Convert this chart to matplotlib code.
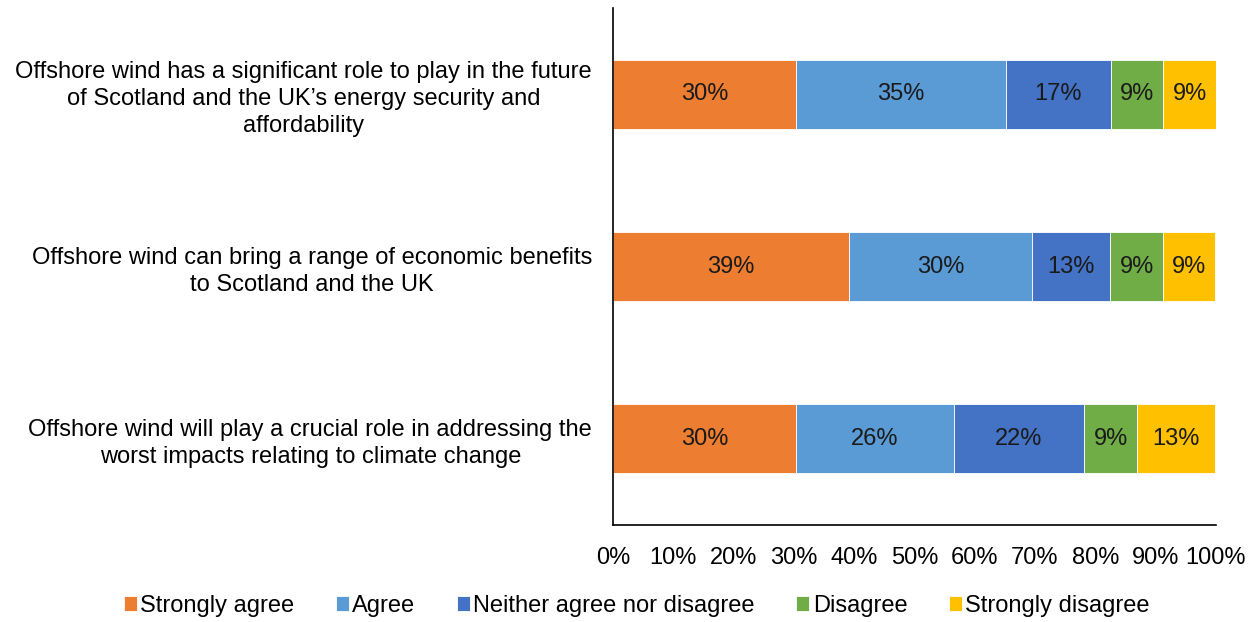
import numpy as np
import matplotlib
matplotlib.use("Agg")
import matplotlib.pyplot as plt

plt.rcParams['font.family'] = ['Liberation Sans', 'DejaVu Sans']

statements = [
    "Offshore wind has a significant role to play in the future\nof Scotland and the UK\u2019s energy security and\naffordability",
    "Offshore wind can bring a range of economic benefits\nto Scotland and the UK",
    "Offshore wind will play a crucial role in addressing the\nworst impacts relating to climate change",
]
responses = ["Strongly agree", "Agree", "Neither agree nor disagree", "Disagree", "Strongly disagree"]
strongly_agree = [30.4, 39.1, 30.4]
agree = [34.8, 30.4, 26.1]
neither = [17.4, 13.0, 21.7]
disagree = [8.7, 8.7, 8.7]
strongly_disagree = [8.7, 8.7, 13.0]
colors = ["#ED7D31", "#5B9BD5", "#4472C4", "#70AD47", "#FFC000"]

series = [strongly_agree, agree, neither, disagree, strongly_disagree]

fig = plt.figure(figsize=(12.56, 6.22), dpi=100)
ax = fig.add_axes([0.488, 0.156, 0.480, 0.831])

y = np.arange(len(statements))
left = np.zeros(len(statements))
for name, vals, c in zip(responses, series, colors):
    vals = np.array(vals)
    ax.barh(y, vals, left=left, height=0.4, color=c, edgecolor="white",
            linewidth=0.6, label=name)
    for yi, l, v in zip(y, left, vals):
        ax.text(l + v / 2, yi, f"{v:.0f}%", ha="center", va="center", fontsize=17, color="#1a1a1a")
    left += vals

ax.set_xlim(0, 100)
ax.set_ylim(2.5, -0.5)
ax.set_yticks(y)
ax.set_yticklabels(statements, fontsize=17, ha="right", multialignment="center",
                   linespacing=1.3)
ax.set_xticks(np.arange(0, 101, 10))
ax.set_xticklabels([f"{t}%" for t in range(0, 101, 10)], fontsize=17)
ax.tick_params(axis="both", length=0)
ax.tick_params(axis="x", pad=16)
ax.tick_params(axis="y", pad=15)
for s in ["top", "right"]:
    ax.spines[s].set_visible(False)
for s in ["left", "bottom"]:
    ax.spines[s].set_color("black")
    ax.spines[s].set_linewidth(1.2)

fig.legend(loc="center", bbox_to_anchor=(0.507, 0.026), ncol=5, frameon=False,
           fontsize=17, handlelength=0.55, handleheight=0.55, handletextpad=0.15,
           columnspacing=1.75)

fig.savefig("out.png", dpi=100)
